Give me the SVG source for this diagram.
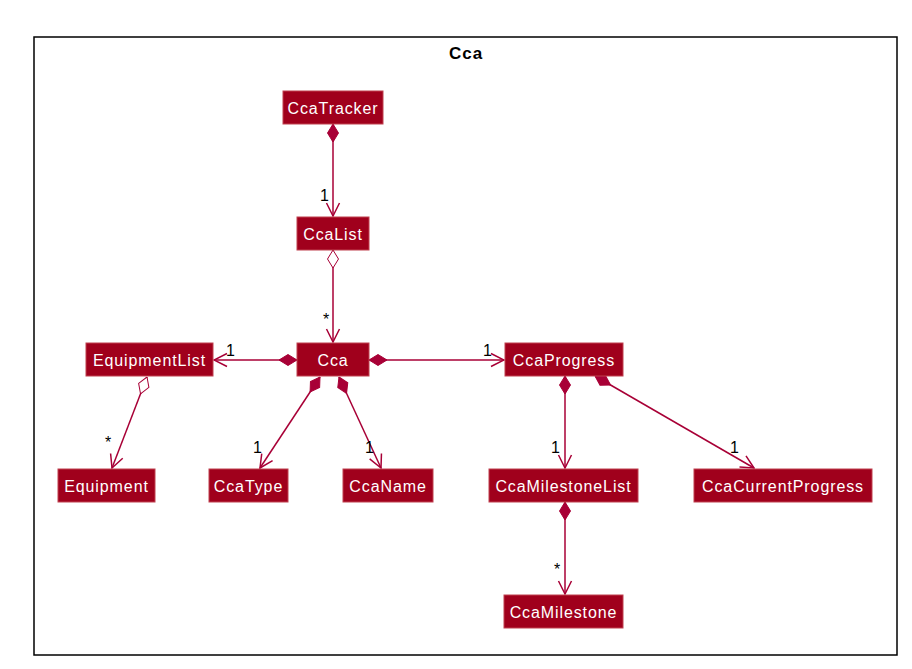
<svg xmlns="http://www.w3.org/2000/svg" width="912" height="669" viewBox="0 0 912 669">
<style>
.node rect{fill:#A0001C;stroke:#C0404F;stroke-width:1}
.node text{fill:#FFFFFF;font-family:"Liberation Sans",Arial,sans-serif;font-size:16px;letter-spacing:0.9px;text-anchor:middle}
.edge{stroke:#A80036;stroke-width:1.5;fill:none}
.lbl{fill:#000000;font-family:"Liberation Sans",Arial,sans-serif;font-size:16px}
</style>
<defs>
<marker id="arr" markerUnits="userSpaceOnUse" markerWidth="16" markerHeight="16" viewBox="-15 -8 16 16" refX="0" refY="0" orient="auto">
<path d="M-13,-6.5 L0,0 L-13,6.5" fill="none" stroke="#A80036" stroke-width="1.5"/>
</marker>
<marker id="comp" markerUnits="userSpaceOnUse" markerWidth="20" markerHeight="14" viewBox="0 -7 20 14" refX="0" refY="0" orient="auto">
<path d="M0,0 L9,-5.5 L18,0 L9,5.5 Z" fill="#A80036" stroke="#A80036" stroke-width="1"/>
</marker>
<marker id="aggr" markerUnits="userSpaceOnUse" markerWidth="20" markerHeight="14" viewBox="0 -7 20 14" refX="0" refY="0" orient="auto">
<path d="M0,0 L9,-5.5 L18,0 L9,5.5 Z" fill="#FFFFFF" stroke="#A80036" stroke-width="1"/>
</marker>
</defs>
<rect x="0" y="0" width="912" height="669" fill="#FFFFFF"/>
<g id="frame">
<rect x="34" y="37" width="863" height="618" fill="none" stroke="#000000" stroke-width="1.5"/>
<text x="466" y="59" font-family="Liberation Sans,Arial,sans-serif" font-size="17" font-weight="bold" letter-spacing="1" text-anchor="middle">Cca</text>
</g>
<g id="connectors">
<line class="edge" x1="333" y1="124" x2="333" y2="216" marker-start="url(#comp)" marker-end="url(#arr)"/>
<line class="edge" x1="333" y1="250" x2="333" y2="342" marker-start="url(#aggr)" marker-end="url(#arr)"/>
<line class="edge" x1="297" y1="360" x2="214" y2="360" marker-start="url(#comp)" marker-end="url(#arr)"/>
<line class="edge" x1="369" y1="360" x2="504" y2="360" marker-start="url(#comp)" marker-end="url(#arr)"/>
<line class="edge" x1="320" y1="377" x2="260" y2="468" marker-start="url(#comp)" marker-end="url(#arr)"/>
<line class="edge" x1="339" y1="377" x2="381" y2="468" marker-start="url(#comp)" marker-end="url(#arr)"/>
<line class="edge" x1="147" y1="377" x2="112" y2="468" marker-start="url(#aggr)" marker-end="url(#arr)"/>
<line class="edge" x1="565" y1="376" x2="565" y2="468" marker-start="url(#comp)" marker-end="url(#arr)"/>
<line class="edge" x1="595" y1="376" x2="754" y2="468" marker-start="url(#comp)" marker-end="url(#arr)"/>
<line class="edge" x1="565" y1="502" x2="565" y2="594" marker-start="url(#comp)" marker-end="url(#arr)"/>
<text class="lbl" x="320" y="201">1</text>
<text class="lbl" x="323" y="325">*</text>
<text class="lbl" x="226" y="356">1</text>
<text class="lbl" x="483" y="356">1</text>
<text class="lbl" x="253" y="453">1</text>
<text class="lbl" x="365" y="453">1</text>
<text class="lbl" x="105" y="448">*</text>
<text class="lbl" x="551" y="453">1</text>
<text class="lbl" x="730" y="453">1</text>
<text class="lbl" x="554" y="575">*</text>
</g>
<g id="CcaTracker" class="node"><rect x="283" y="91" width="100" height="33"/><text x="333" y="113.5">CcaTracker</text></g>
<g id="CcaList" class="node"><rect x="297" y="217" width="72" height="33"/><text x="333" y="239.5">CcaList</text></g>
<g id="Cca" class="node"><rect x="297" y="343" width="72" height="33"/><text x="333" y="365.5">Cca</text></g>
<g id="EquipmentList" class="node"><rect x="86" y="343" width="127" height="33"/><text x="149.5" y="365.5">EquipmentList</text></g>
<g id="CcaProgress" class="node"><rect x="505" y="343" width="118" height="33"/><text x="564" y="365.5">CcaProgress</text></g>
<g id="Equipment" class="node"><rect x="58" y="469" width="97" height="33"/><text x="106.5" y="491.5">Equipment</text></g>
<g id="CcaType" class="node"><rect x="209" y="469" width="79" height="33"/><text x="248.5" y="491.5">CcaType</text></g>
<g id="CcaName" class="node"><rect x="343" y="469" width="90" height="33"/><text x="388" y="491.5">CcaName</text></g>
<g id="CcaMilestoneList" class="node"><rect x="489" y="469" width="149" height="33"/><text x="563.5" y="491.5">CcaMilestoneList</text></g>
<g id="CcaCurrentProgress" class="node"><rect x="694" y="469" width="178" height="33"/><text x="783" y="491.5">CcaCurrentProgress</text></g>
<g id="CcaMilestone" class="node"><rect x="504" y="595" width="119" height="33"/><text x="563.5" y="617.5">CcaMilestone</text></g>
</svg>
